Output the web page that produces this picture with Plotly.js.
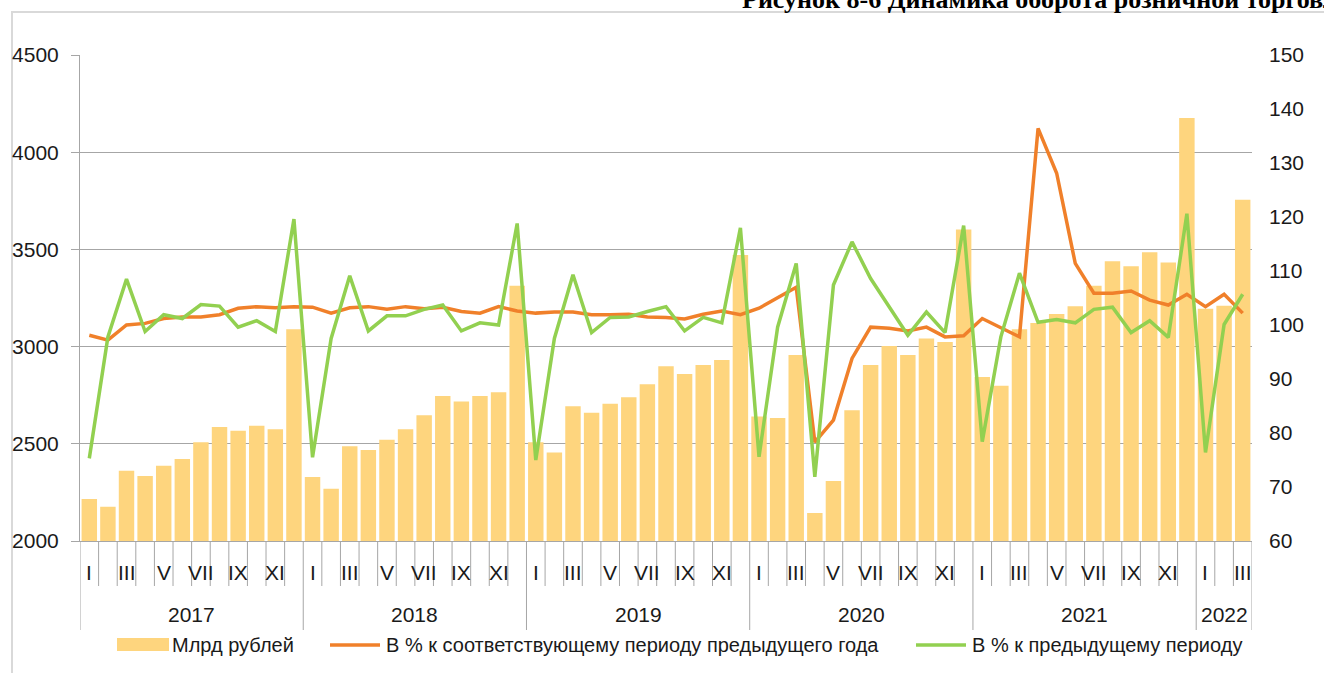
<!DOCTYPE html>
<html>
<head>
<meta charset="utf-8">
<script src="https://cdn.plot.ly/plotly-3.0.1.min.js"></script>
<style>
html,body{margin:0;padding:0;background:#fff;}
#chart{width:1324px;height:673px;}
</style>
</head>
<body>
<div id="chart"></div>
<script>
// ---- data ----
const years = ["2017", "2018", "2019", "2020", "2021", "2022"];
const monthsPerYear = [12, 12, 12, 12, 12, 3];
const monthLabels = ["I", "II", "III", "IV", "V", "VI", "VII", "VIII", "IX", "X", "XI", "XII"];
const shownMonthLabels = ["I", "III", "V", "VII", "IX", "XI"];

// Оборот розничной торговли, млрд рублей
const turnover = [
  2216, 2176, 2362, 2334, 2387, 2422, 2508, 2586, 2567, 2593, 2575, 3089,
  2329, 2269, 2487, 2468, 2521, 2575, 2647, 2746, 2718, 2746, 2765, 3313,
  2508, 2455, 2693, 2660, 2706, 2739, 2806, 2899, 2859, 2905, 2931, 3471,
  2640, 2633, 2957, 2144, 2309, 2672, 2905, 3003, 2957, 3042, 3024, 3603,
  2844, 2799, 3089, 3121, 3168, 3207, 3313, 3439, 3413, 3485, 3432, 4176,
  3195, 3210, 3755
];
// В % к соответствующему периоду предыдущего года
const yoy = [
  98.1, 97.2, 100.0, 100.3, 101.2, 101.5, 101.5, 101.9, 103.1, 103.4, 103.2, 103.4,
  103.3, 102.2, 103.2, 103.4, 102.9, 103.4, 103.0, 103.3, 102.5, 102.2, 103.4, 102.6,
  102.2, 102.4, 102.4, 101.9, 101.9, 102.0, 101.5, 101.4, 101.1, 102.0, 102.6, 101.9,
  103.1, 105.1, 107.0, 78.3, 82.4, 93.8, 99.6, 99.4, 98.9, 99.6, 97.8, 98.0,
  101.2, 99.5, 97.8, 136.4, 128.1, 111.4, 105.9, 105.9, 106.3, 104.6, 103.7, 105.7,
  103.4, 105.7, 102.2
];
// В % к предыдущему периоду
const mom = [
  75.3, 97.8, 108.5, 98.8, 101.9, 101.2, 103.8, 103.5, 99.6, 100.8, 98.8, 119.6,
  75.5, 97.5, 109.1, 98.9, 101.7, 101.7, 102.9, 103.7, 98.9, 100.4, 100.0, 118.8,
  75.0, 97.5, 109.3, 98.6, 101.4, 101.5, 102.5, 103.4, 98.9, 101.4, 100.4, 118.0,
  75.6, 99.6, 111.4, 71.9, 107.4, 115.4, 108.6, 103.4, 98.1, 102.4, 98.6, 118.4,
  78.4, 97.8, 109.6, 100.5, 101.0, 100.4, 102.9, 103.3, 98.6, 100.8, 97.7, 120.6,
  76.4, 100.1, 105.7
];
const seriesNames = ["Млрд рублей", "В % к соответствующему периоду предыдущего года", "В % к предыдущему периоду"];
const titleText = "Рисунок 8-6 Динамика оборота розничной торговли";

// ---- styling ----
const FONT = '"Liberation Sans", Arial, sans-serif';
const FS = 21;
const FS_LEG = 20;
const BAR_COLOR = "#FED57E";
const ORANGE = "#F0802A";
const GREEN = "#92D050";
const GRID = "#A6A6A6";
const TXT = "#1a1a1a";

// pixel helpers (plot area: x 80..1252, y 55..541)
const L = 80, R = 1252, T = 55, B = 541;
const px = p => (p - L) / (R - L);
const py = p => (B - p) / (B - T);

// categories
const periods = [];
years.forEach((y, yi) => {
  for (let m = 0; m < monthsPerYear[yi]; m++) periods.push({ year: y, month: monthLabels[m] });
});
const xs = periods.map((_, i) => i);

const traces = [
  { type: "bar", x: xs, y: turnover, name: seriesNames[0], marker: { color: BAR_COLOR }, yaxis: "y" },
  { type: "scatter", mode: "lines", x: xs, y: yoy, name: seriesNames[1], yaxis: "y2",
    line: { color: ORANGE, width: 3.5, shape: "linear" } },
  { type: "scatter", mode: "lines", x: xs, y: mom, name: seriesNames[2], yaxis: "y2",
    line: { color: GREEN, width: 3.5, shape: "linear" } }
];

const shapes = [];
const annotations = [];

// frame of the figure
shapes.push({ type: "rect", xref: "paper", yref: "paper", x0: px(12), x1: px(1400), y0: py(720), y1: py(12),
  line: { color: "#D9D9D9", width: 2 }, fillcolor: "rgba(0,0,0,0)", layer: "below" });

// category tick marks & year separators
const yearStarts = [];
let acc = 0;
monthsPerYear.forEach(n => { yearStarts.push(acc); acc += n; });
yearStarts.push(acc);
for (let k = 0; k <= periods.length; k++) {
  const isYear = yearStarts.includes(k);
  shapes.push({ type: "line", xref: "x", yref: "paper", x0: k - 0.5, x1: k - 0.5,
    y0: 0, y1: isYear ? py(630) : py(586), line: { color: GRID, width: 1 } });
}
// month labels
periods.forEach((p, i) => {
  if (shownMonthLabels.includes(p.month)) {
    annotations.push({ x: i, y: py(572), xref: "x", yref: "paper", text: p.month, showarrow: false,
      font: { family: FONT, size: FS, color: TXT }, xanchor: "center", yanchor: "middle" });
  }
});
// year labels
years.forEach((y, yi) => {
  const c = (yearStarts[yi] + yearStarts[yi + 1] - 1) / 2;
  annotations.push({ x: c, y: py(614), xref: "x", yref: "paper", text: y, showarrow: false,
    font: { family: FONT, size: FS, color: TXT }, xanchor: "center", yanchor: "middle" });
});

// legend (drawn)
const legY = 645;
shapes.push({ type: "rect", xref: "paper", yref: "paper", x0: px(117), x1: px(169), y0: py(651), y1: py(638),
  fillcolor: BAR_COLOR, line: { width: 0 } });
annotations.push({ x: px(170), y: py(legY), xref: "paper", yref: "paper", text: seriesNames[0], showarrow: false,
  font: { family: FONT, size: FS_LEG, color: TXT }, xanchor: "left", yanchor: "middle" });
shapes.push({ type: "line", xref: "paper", yref: "paper", x0: px(330), x1: px(380), y0: py(legY), y1: py(legY),
  line: { color: ORANGE, width: 3.5 } });
annotations.push({ x: px(384), y: py(legY), xref: "paper", yref: "paper", text: seriesNames[1], showarrow: false,
  font: { family: FONT, size: FS_LEG, color: TXT }, xanchor: "left", yanchor: "middle" });
shapes.push({ type: "line", xref: "paper", yref: "paper", x0: px(916), x1: px(966), y0: py(legY), y1: py(legY),
  line: { color: GREEN, width: 3.5 } });
annotations.push({ x: px(970), y: py(legY), xref: "paper", yref: "paper", text: seriesNames[2], showarrow: false,
  font: { family: FONT, size: FS_LEG, color: TXT }, xanchor: "left", yanchor: "middle" });

// title (partially cut at top and right as in the reference)
annotations.push({ x: px(740), y: py(-1), xref: "paper", yref: "paper", text: "<b>" + titleText + "</b>", showarrow: false,
  font: { family: '"Liberation Serif", "Times New Roman", serif', size: 26, color: "#000" }, xanchor: "left", yanchor: "middle" });

const layout = {
  width: 1324, height: 673,
  margin: { l: L, r: 1324 - R, t: T, b: 673 - B, pad: 0 },
  paper_bgcolor: "#fff", plot_bgcolor: "#fff",
  showlegend: false,
  bargap: 0.17,
  font: { family: FONT, size: FS, color: TXT },
  xaxis: { range: [-0.5, periods.length - 0.5], showticklabels: false, ticks: "", showgrid: false,
    zeroline: false, showline: true, linecolor: GRID, linewidth: 1, fixedrange: true },
  yaxis: { range: [2000, 4500], tickvals: [2000, 2500, 3000, 3500, 4000, 4500], showgrid: true, gridcolor: GRID, gridwidth: 1,
    zeroline: false, showline: true, linecolor: GRID, linewidth: 1, ticks: "outside", ticklen: 8, tickcolor: GRID,
    ticklabelstandoff: 8, tickfont: { family: FONT, size: FS, color: TXT } },
  yaxis2: { range: [60, 150], dtick: 10, overlaying: "y", side: "right", showgrid: false, zeroline: false,
    showline: false, ticks: "", ticklabelstandoff: 16, tickfont: { family: FONT, size: FS, color: TXT } },
  shapes: shapes,
  annotations: annotations
};

Plotly.newPlot("chart", traces, layout, { displayModeBar: false, staticPlot: true });
</script>
</body>
</html>
